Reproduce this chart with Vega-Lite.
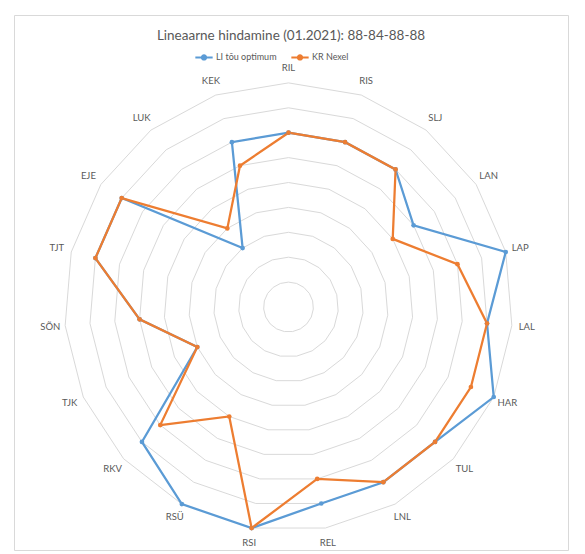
{
  "$schema": "https://vega.github.io/schema/vega-lite/v6.json",
  "width": 554,
  "height": 535,
  "autosize": {"type": "none"},
  "padding": {"left": 14, "top": 15, "right": 17, "bottom": 4},
  "background": "white",
  "config": {"view": {"stroke": "#D9D9D9", "strokeWidth": 1}, "font": "Lato"},
  "title": {"text": "Lineaarne hindamine (01.2021): 88-84-88-88", "fontSize": 13.5, "font": "Lato", "fontWeight": "normal", "color": "#595959", "anchor": "middle", "offset": -27},
  "datasets": {
    "scores": [
      {"idx": 0, "cat": "RIL", "series": "LI tõu optimum", "value": 7},
      {"idx": 1, "cat": "RIS", "series": "LI tõu optimum", "value": 7},
      {"idx": 2, "cat": "SLJ", "series": "LI tõu optimum", "value": 7},
      {"idx": 3, "cat": "LAN", "series": "LI tõu optimum", "value": 6},
      {"idx": 4, "cat": "LAP", "series": "LI tõu optimum", "value": 9},
      {"idx": 5, "cat": "LAL", "series": "LI tõu optimum", "value": 8},
      {"idx": 6, "cat": "HAR", "series": "LI tõu optimum", "value": 9},
      {"idx": 7, "cat": "TUL", "series": "LI tõu optimum", "value": 8},
      {"idx": 8, "cat": "LNL", "series": "LI tõu optimum", "value": 8},
      {"idx": 9, "cat": "REL", "series": "LI tõu optimum", "value": 8},
      {"idx": 10, "cat": "RSI", "series": "LI tõu optimum", "value": 9},
      {"idx": 11, "cat": "RSÜ", "series": "LI tõu optimum", "value": 9},
      {"idx": 12, "cat": "RKV", "series": "LI tõu optimum", "value": 8},
      {"idx": 13, "cat": "TJK", "series": "LI tõu optimum", "value": 4},
      {"idx": 14, "cat": "SÕN", "series": "LI tõu optimum", "value": 6},
      {"idx": 15, "cat": "TJT", "series": "LI tõu optimum", "value": 8},
      {"idx": 16, "cat": "EJE", "series": "LI tõu optimum", "value": 8},
      {"idx": 17, "cat": "LUK", "series": "LI tõu optimum", "value": 3},
      {"idx": 18, "cat": "KEK", "series": "LI tõu optimum", "value": 7},
      {"idx": 0, "cat": "RIL", "series": "KR Nexel", "value": 7},
      {"idx": 1, "cat": "RIS", "series": "KR Nexel", "value": 7},
      {"idx": 2, "cat": "SLJ", "series": "KR Nexel", "value": 7},
      {"idx": 3, "cat": "LAN", "series": "KR Nexel", "value": 5},
      {"idx": 4, "cat": "LAP", "series": "KR Nexel", "value": 7},
      {"idx": 5, "cat": "LAL", "series": "KR Nexel", "value": 8},
      {"idx": 6, "cat": "HAR", "series": "KR Nexel", "value": 8},
      {"idx": 7, "cat": "TUL", "series": "KR Nexel", "value": 8},
      {"idx": 8, "cat": "LNL", "series": "KR Nexel", "value": 8},
      {"idx": 9, "cat": "REL", "series": "KR Nexel", "value": 7},
      {"idx": 10, "cat": "RSI", "series": "KR Nexel", "value": 9},
      {"idx": 11, "cat": "RSÜ", "series": "KR Nexel", "value": 5},
      {"idx": 12, "cat": "RKV", "series": "KR Nexel", "value": 7},
      {"idx": 13, "cat": "TJK", "series": "KR Nexel", "value": 4},
      {"idx": 14, "cat": "SÕN", "series": "KR Nexel", "value": 6},
      {"idx": 15, "cat": "TJT", "series": "KR Nexel", "value": 8},
      {"idx": 16, "cat": "EJE", "series": "KR Nexel", "value": 8},
      {"idx": 17, "cat": "LUK", "series": "KR Nexel", "value": 4},
      {"idx": 18, "cat": "KEK", "series": "KR Nexel", "value": 6}
    ],
    "cats": [
      {"idx": 0, "cat": "RIL", "levels": [1, 2, 3, 4, 5, 6, 7, 8, 9]},
      {"idx": 1, "cat": "RIS", "levels": [1, 2, 3, 4, 5, 6, 7, 8, 9]},
      {"idx": 2, "cat": "SLJ", "levels": [1, 2, 3, 4, 5, 6, 7, 8, 9]},
      {"idx": 3, "cat": "LAN", "levels": [1, 2, 3, 4, 5, 6, 7, 8, 9]},
      {"idx": 4, "cat": "LAP", "levels": [1, 2, 3, 4, 5, 6, 7, 8, 9]},
      {"idx": 5, "cat": "LAL", "levels": [1, 2, 3, 4, 5, 6, 7, 8, 9]},
      {"idx": 6, "cat": "HAR", "levels": [1, 2, 3, 4, 5, 6, 7, 8, 9]},
      {"idx": 7, "cat": "TUL", "levels": [1, 2, 3, 4, 5, 6, 7, 8, 9]},
      {"idx": 8, "cat": "LNL", "levels": [1, 2, 3, 4, 5, 6, 7, 8, 9]},
      {"idx": 9, "cat": "REL", "levels": [1, 2, 3, 4, 5, 6, 7, 8, 9]},
      {"idx": 10, "cat": "RSI", "levels": [1, 2, 3, 4, 5, 6, 7, 8, 9]},
      {"idx": 11, "cat": "RSÜ", "levels": [1, 2, 3, 4, 5, 6, 7, 8, 9]},
      {"idx": 12, "cat": "RKV", "levels": [1, 2, 3, 4, 5, 6, 7, 8, 9]},
      {"idx": 13, "cat": "TJK", "levels": [1, 2, 3, 4, 5, 6, 7, 8, 9]},
      {"idx": 14, "cat": "SÕN", "levels": [1, 2, 3, 4, 5, 6, 7, 8, 9]},
      {"idx": 15, "cat": "TJT", "levels": [1, 2, 3, 4, 5, 6, 7, 8, 9]},
      {"idx": 16, "cat": "EJE", "levels": [1, 2, 3, 4, 5, 6, 7, 8, 9]},
      {"idx": 17, "cat": "LUK", "levels": [1, 2, 3, 4, 5, 6, 7, 8, 9]},
      {"idx": 18, "cat": "KEK", "levels": [1, 2, 3, 4, 5, 6, 7, 8, 9]}
    ]
  },
  "layer": [
    {
      "data": {"name": "cats"},
      "transform": [
        {"flatten": ["levels"], "as": ["level"]},
        {"calculate": "datum.idx * 2 * PI / 19", "as": "a"},
        {"calculate": "datum.level * sin(datum.a)", "as": "px"},
        {"calculate": "datum.level * cos(datum.a)", "as": "py"}
      ],
      "mark": {"type": "line", "interpolate": "linear-closed", "stroke": "#D9D9D9", "strokeWidth": 1},
      "encoding": {
        "x": {"field": "px", "type": "quantitative", "scale": {"domain": [-11.024, 11.225], "nice": false, "zero": false}, "axis": null},
        "y": {"field": "py", "type": "quantitative", "scale": {"domain": [-9.759, 11.727], "nice": false, "zero": false}, "axis": null},
        "detail": {"field": "level", "type": "nominal"},
        "order": {"field": "idx", "type": "quantitative"}
      }
    },
    {
      "data": {"name": "scores"},
      "transform": [
        {"calculate": "datum.idx * 2 * PI / 19", "as": "a"},
        {"calculate": "datum.value * sin(datum.a)", "as": "px"},
        {"calculate": "datum.value * cos(datum.a)", "as": "py"}
      ],
      "mark": {"type": "line", "interpolate": "linear-closed", "strokeWidth": 2.25, "point": {"filled": true, "size": 22}},
      "encoding": {
        "x": {"field": "px", "type": "quantitative", "axis": null},
        "y": {"field": "py", "type": "quantitative", "axis": null},
        "color": {
          "field": "series", "type": "nominal",
          "scale": {"domain": ["LI tõu optimum", "KR Nexel"], "range": ["#5B9BD5", "#ED7D31"]},
          "legend": {"title": null, "orient": "none", "direction": "horizontal", "legendX": 180, "legendY": 32, "labelFontSize": 9, "labelColor": "#595959", "labelFont": "Lato", "symbolType": "M-1,0H1M-0.25,0A0.25,0.25,0,1,1,0.25,0A0.25,0.25,0,1,1,-0.25,0Z", "symbolStrokeWidth": 2, "symbolSize": 300, "columnPadding": 10, "labelOffset": 2}
        },
        "order": {"field": "idx", "type": "quantitative"}
      }
    },
    {
      "data": {"name": "cats"},
      "transform": [
        {"calculate": "datum.idx * 2 * PI / 19", "as": "a"},
        {"calculate": "9.6 * sin(datum.a)", "as": "px"},
        {"calculate": "9.6 * cos(datum.a)", "as": "py"}
      ],
      "mark": {"type": "text", "fontSize": 9.5, "color": "#595959", "align": "center", "baseline": "middle", "font": "Lato"},
      "encoding": {
        "x": {"field": "px", "type": "quantitative", "axis": null},
        "y": {"field": "py", "type": "quantitative", "axis": null},
        "text": {"field": "cat", "type": "nominal"}
      }
    }
  ]
}
